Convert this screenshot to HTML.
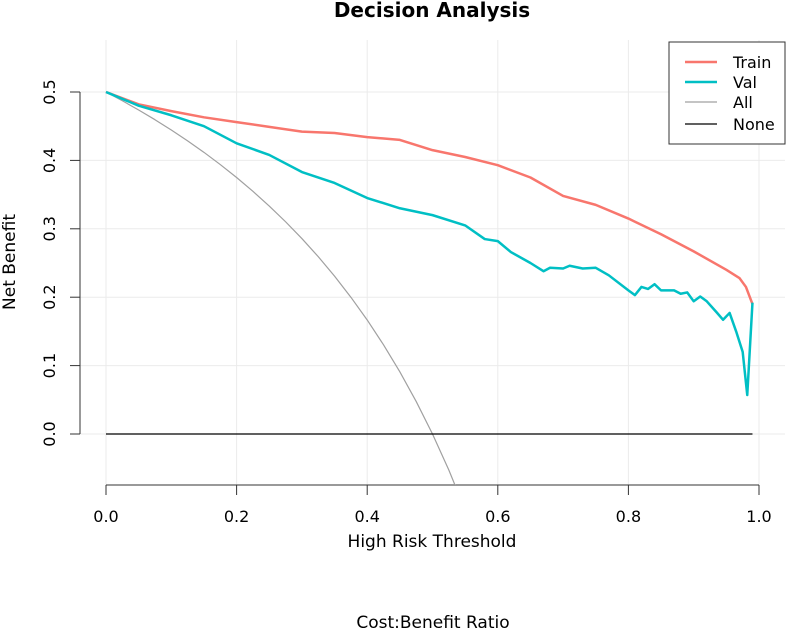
<!DOCTYPE html>
<html><head><meta charset="utf-8"><style>
body{margin:0;background:#fff;}
svg{display:block;font-family:"DejaVu Sans","Liberation Sans",sans-serif;}
</style></head><body>
<svg width="786" height="630" id="chart">
<defs><clipPath id="plotclip"><rect x="80" y="40" width="705" height="445"/></clipPath></defs>
<text x="432" y="17" text-anchor="middle" font-weight="bold" font-size="20">Decision Analysis</text>
<g id="grid"></g>
<g id="axes"></g>
<g id="series" clip-path="url(#plotclip)"></g>
<text x="432" y="547" text-anchor="middle" font-size="17">High Risk Threshold</text>
<text x="433" y="628" text-anchor="middle" font-size="17">Cost:Benefit Ratio</text>
<text transform="translate(15,262) rotate(-90)" text-anchor="middle" font-size="17">Net Benefit</text>
<g>
<rect x="669" y="42" width="116" height="102" fill="#fff" stroke="#333" stroke-width="1"/>
<g><line x1="685" y1="62" x2="717" y2="62" stroke="#F8766D" stroke-width="2.5"/><text x="733" y="68" font-size="16">Train</text></g>
<g><line x1="685" y1="82" x2="717" y2="82" stroke="#00BFC4" stroke-width="2.5"/><text x="733" y="88" font-size="16">Val</text></g>
<g><line x1="685" y1="102" x2="717" y2="102" stroke="#a0a0a0" stroke-width="1.2"/><text x="733" y="108" font-size="16">All</text></g>
<g><line x1="685" y1="124" x2="717" y2="124" stroke="#000" stroke-width="1.2"/><text x="733" y="130" font-size="16">None</text></g>
</g>
</svg>
<script>
const xTicks=[0,0.2,0.4,0.6,0.8,1.0];
const xTickLabels=["0.0","0.2","0.4","0.6","0.8","1.0"];
const yTicks=[0,0.1,0.2,0.3,0.4,0.5];
const yTickLabels=["0.0","0.1","0.2","0.3","0.4","0.5"];
const trainT=[0,0.05,0.1,0.15,0.2,0.25,0.3,0.35,0.4,0.45,0.5,0.55,0.6,0.65,0.7,0.75,0.8,0.85,0.9,0.95,0.97,0.98,0.99];
const trainNB=[0.5,0.482,0.472,0.463,0.456,0.449,0.442,0.440,0.434,0.430,0.415,0.405,0.393,0.375,0.348,0.335,0.315,0.292,0.267,0.240,0.228,0.215,0.19];
const valT=[0,0.05,0.1,0.15,0.2,0.25,0.3,0.35,0.4,0.45,0.5,0.55,0.58,0.6,0.62,0.65,0.67,0.68,0.7,0.71,0.73,0.75,0.77,0.8,0.81,0.82,0.83,0.84,0.85,0.87,0.88,0.89,0.9,0.91,0.92,0.935,0.945,0.955,0.965,0.975,0.982,0.99];
const valNB=[0.5,0.48,0.466,0.45,0.425,0.408,0.383,0.367,0.345,0.33,0.32,0.305,0.285,0.282,0.266,0.25,0.238,0.243,0.242,0.246,0.242,0.243,0.232,0.21,0.203,0.215,0.212,0.219,0.21,0.21,0.205,0.207,0.194,0.201,0.194,0.178,0.167,0.177,0.15,0.12,0.057,0.192];
const allT=[0,0.025,0.05,0.075,0.1,0.125,0.15,0.175,0.2,0.225,0.25,0.275,0.3,0.325,0.35,0.375,0.4,0.425,0.45,0.475,0.5,0.525,0.55];
const allNB=[0.5,0.4872,0.4737,0.4595,0.4444,0.4286,0.4118,0.3939,0.375,0.3548,0.3333,0.3103,0.2857,0.2593,0.2308,0.2,0.1667,0.1304,0.0909,0.0476,0,-0.0526,-0.1111];
const noneT=[0,0.99];
const noneNB=[0,0];
const NS="http://www.w3.org/2000/svg";
const sx=t=>106+t*653, sy=v=>434-v*684;
function mk(tag,attrs,parent){const e=document.createElementNS(NS,tag);for(const k in attrs)e.setAttribute(k,attrs[k]);parent.appendChild(e);return e;}
const grid=document.getElementById('grid'),axes=document.getElementById('axes'),ser=document.getElementById('series');
xTicks.forEach((t,i)=>{
 const g=mk('line',{x1:sx(t),x2:sx(t),y1:40,y2:485,stroke:'#ebebeb','stroke-width':1},grid);
 
 
 const tk=mk('line',{x1:sx(t),x2:sx(t),y1:485,y2:495,stroke:'#333'},axes);
 
 
 const lb=mk('text',{x:sx(t),y:522,'text-anchor':'middle','font-size':16},axes);lb.textContent=xTickLabels[i];
 
 
});
yTicks.forEach((v,i)=>{
 const g=mk('line',{x1:80,x2:785,y1:sy(v),y2:sy(v),stroke:'#ebebeb','stroke-width':1},grid);
 
 
 const tk=mk('line',{x1:70,x2:80,y1:sy(v),y2:sy(v),stroke:'#333'},axes);
 
 
 const lb=mk('text',{transform:`translate(55,${sy(v)}) rotate(-90)`,'text-anchor':'middle','font-size':16},axes);lb.textContent=yTickLabels[i];
 
 
});
const xa=mk('line',{x1:sx(0),x2:sx(1),y1:485,y2:485,stroke:'#333'},axes);


const ya=mk('line',{x1:80,x2:80,y1:sy(0),y2:sy(0.5),stroke:'#333'},axes);


function line(T,V,color,w,name){
 const p=mk('polyline',{points:T.map((t,i)=>sx(t)+','+sy(V[i])).join(' '),fill:'none',stroke:color,'stroke-width':w,'stroke-linejoin':'round'},ser);
 
 
}
line(allT,allNB,'#a0a0a0',1.2,'all-line');
line(noneT,noneNB,'#000',1.2,'none-line');
line(trainT,trainNB,'#F8766D',2.5,'train-line');
line(valT,valNB,'#00BFC4',2.5,'val-line');
</script>
</body></html>
